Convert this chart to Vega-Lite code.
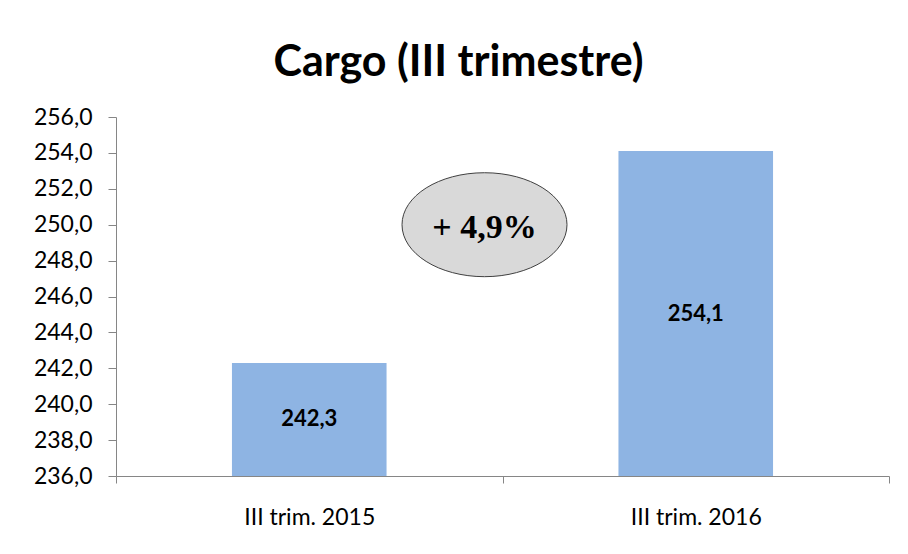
{
  "$schema": "https://vega.github.io/schema/vega-lite/v6.json",
  "width": 773,
  "height": 359,
  "autosize": {"type": "none"},
  "padding": {"left": 116, "top": 117, "right": 19, "bottom": 78},
  "background": "white",
  "config": {
    "view": {"stroke": null},
    "locale": {"number": {"decimal": ",", "thousands": ".", "grouping": [3], "currency": ["", " €"]}},
    "font": "Lato"
  },
  "title": {
    "text": "Cargo (III trimestre)",
    "font": "Lato",
    "fontSize": 43,
    "fontWeight": "bold",
    "color": "black",
    "anchor": "middle",
    "frame": "group",
    "dx": -44,
    "dy": 40,
    "baseline": "alphabetic",
    "offset": 27
  },
  "data": {"values": [
    {"periodo": "III trim. 2015", "valor": 242.3},
    {"periodo": "III trim. 2016", "valor": 254.1}
  ]},
  "resolve": {"scale": {"y": "independent"}},
  "layer": [
    {
      "mark": {"type": "bar", "color": "#8EB4E3", "width": {"band": 0.4}},
      "encoding": {
        "x": {
          "field": "periodo", "type": "nominal", "sort": null,
          "scale": {"paddingInner": 0, "paddingOuter": 0},
          "axis": {
            "title": null, "labelAngle": 0, "tickBand": "extent",
            "domainColor": "#868686", "tickColor": "#868686", "tickSize": 7,
            "labelFontSize": 23, "labelColor": "black", "labelFont": "Lato", "labelPadding": 23
          }
        },
        "y": {
          "field": "valor", "type": "quantitative",
          "scale": {"domain": [236, 256], "zero": false, "nice": false},
          "axis": {
            "title": null, "grid": false, "values": [236, 238, 240, 242, 244, 246, 248, 250, 252, 254, 256],
            "format": ".1f", "domainColor": "#868686", "tickColor": "#868686", "tickSize": 8,
            "labelFontSize": 23, "labelColor": "black", "labelFont": "Lato", "labelPadding": 16
          }
        },
        "y2": {"datum": 236}
      }
    },
    {
      "mark": {"type": "text", "fontSize": 22, "fontWeight": "bold", "font": "Lato", "color": "black", "baseline": "middle"},
      "encoding": {
        "x": {"field": "periodo", "type": "nominal", "sort": null},
        "y": {"field": "valor", "type": "quantitative", "scale": {"domain": [236, 276], "zero": false, "nice": false}, "axis": null},
        "text": {"field": "valor", "type": "quantitative", "format": ".1f"}
      }
    },
    {
      "data": {"values": [{"etiqueta": "+ 4,9%"}]},
      "mark": {"type": "point", "shape": "M-1,0A1,0.63 0 1,1 1,0A1,0.63 0 1,1 -1,0Z", "size": 27225, "filled": true, "fill": "#D9D9D9", "stroke": "#404040", "strokeWidth": 1, "opacity": 1, "xOffset": -18},
      "encoding": {
        "x": {"datum": "III trim. 2015", "type": "nominal", "bandPosition": 1},
        "y": {"datum": 250, "type": "quantitative", "scale": {"domain": [236, 256], "zero": false, "nice": false}, "axis": null}
      }
    },
    {
      "data": {"values": [{"etiqueta": "+ 4,9%"}]},
      "mark": {"type": "text", "font": "Liberation Serif", "fontWeight": "bold", "fontSize": 34, "color": "black", "baseline": "middle", "dx": -18},
      "encoding": {
        "x": {"datum": "III trim. 2015", "type": "nominal", "bandPosition": 1},
        "y": {"datum": 249.8, "type": "quantitative", "scale": {"domain": [236, 256], "zero": false, "nice": false}, "axis": null},
        "text": {"field": "etiqueta"}
      }
    }
  ]
}
